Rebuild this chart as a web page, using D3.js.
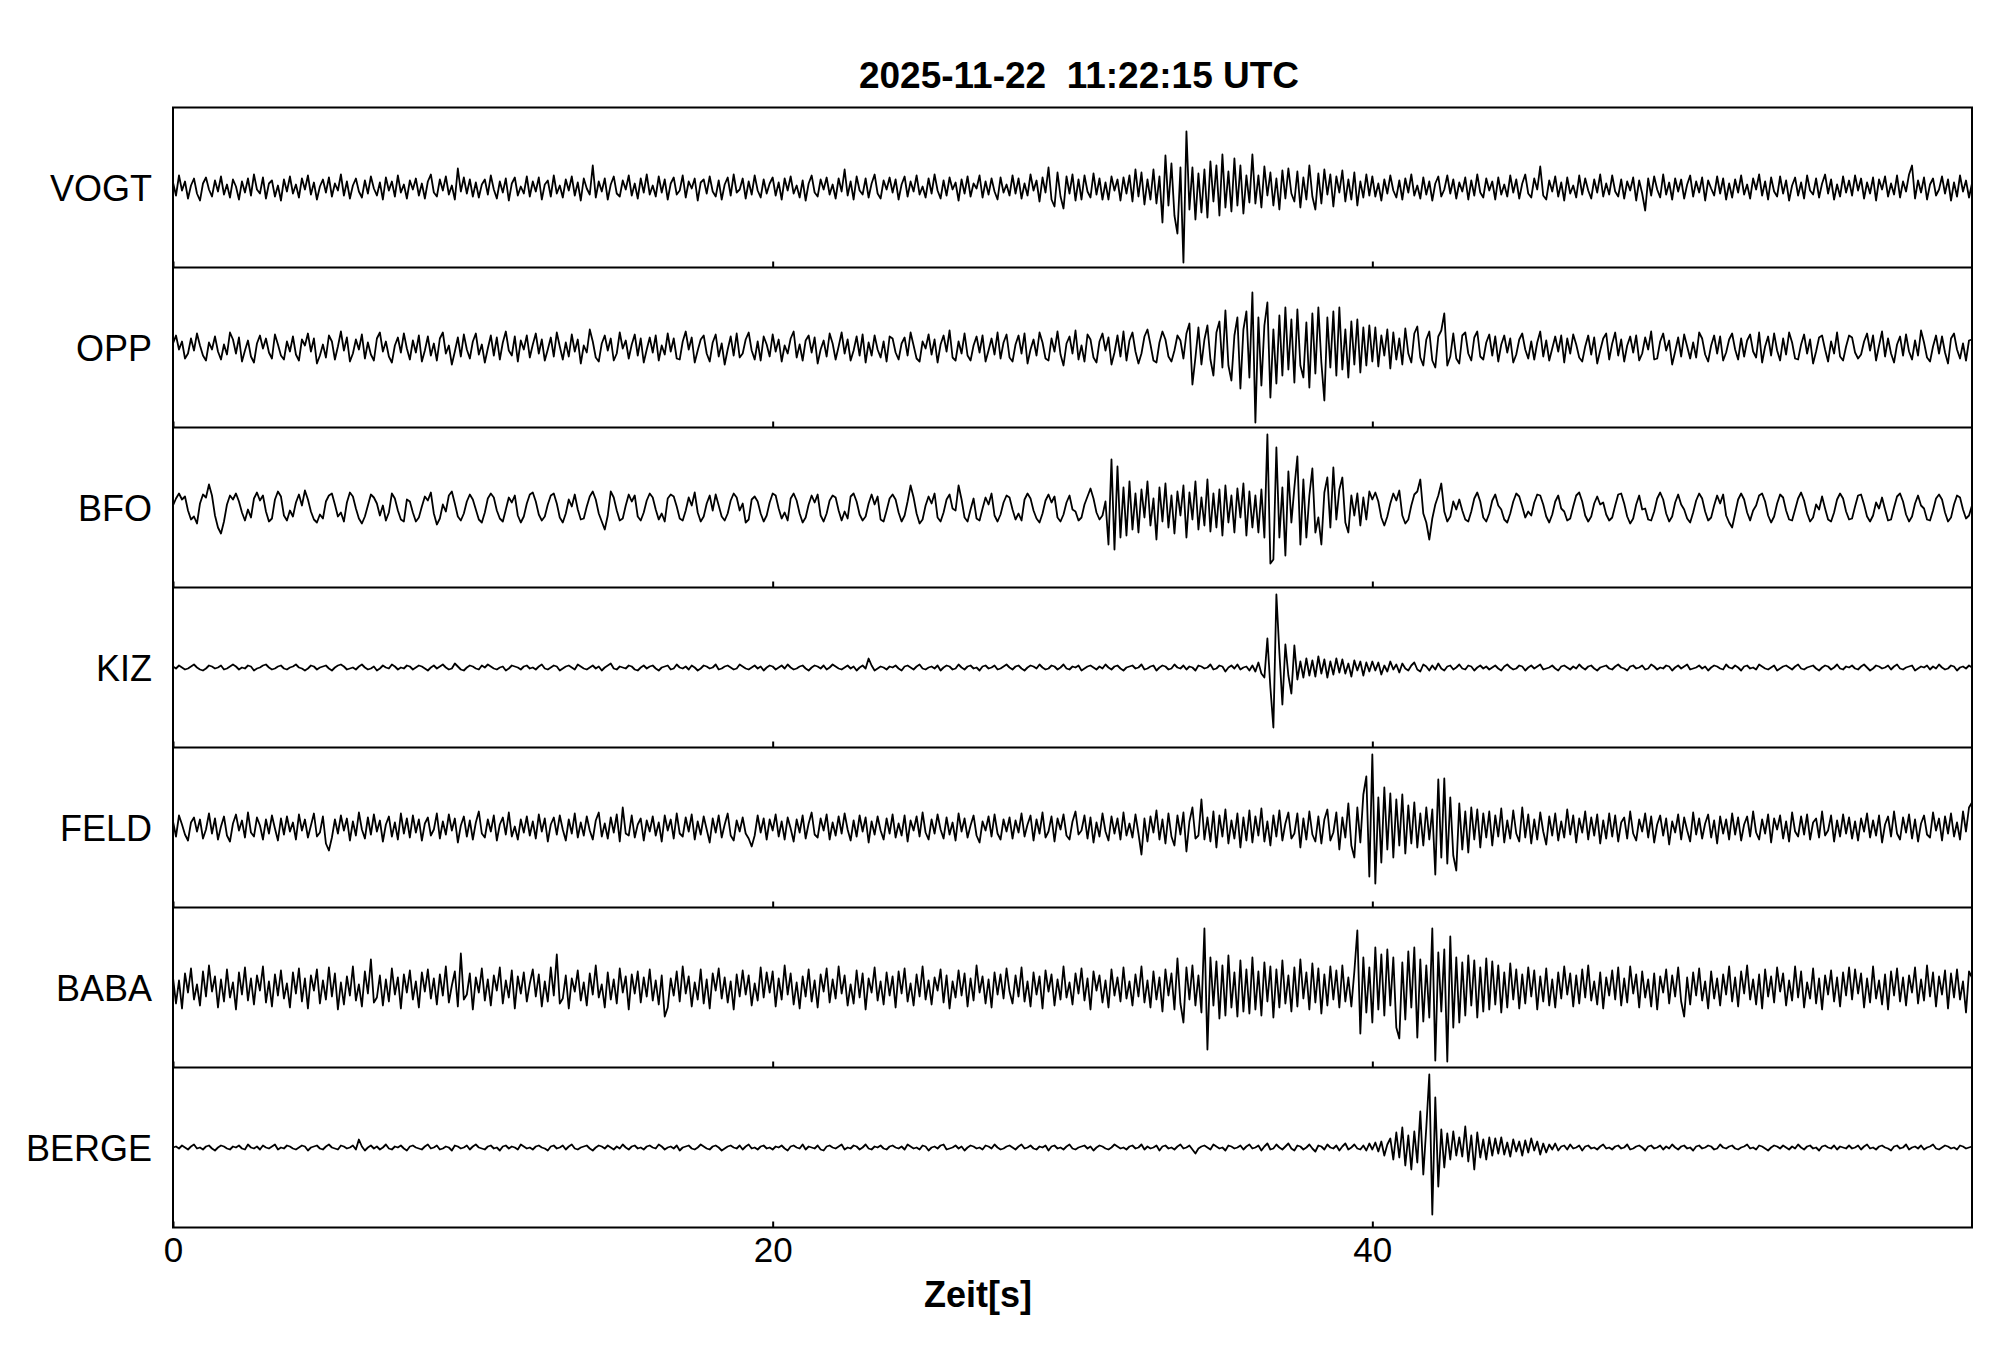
<!DOCTYPE html>
<html lang="de">

<head>
    <meta charset="UTF-8">
    <script src="https://d3js.org/d3.v7.min.js"></script>
    <title>Seismogramm</title>
    <style>
        body {
            margin: 0;
            padding: 0;
            background-color: #fff;
        }

        svg text {
            font-family: "Liberation Sans", Arial, Helvetica, sans-serif;
            fill: #000;
        }
    </style>
</head>

<body>
    <div id="chart"></div>

    <script>
        // Stationen von oben nach unten
        let stations = ["VOGT", "OPP", "BFO", "KIZ", "FELD", "BABA", "BERGE"]
        let xTicks = [0, 20, 40]
        let dt = 0.1   // Abtastintervall in s: 0, 0.1, ... 60 s
        let title = "2025-11-22  11:22:15 UTC"
        let xLabel = "Zeit[s]"

        // Amplituden je Station (eine Zeile = 4 s)
        let vogt = [
            5, -8, 12, -3, 6, -11, 2, 9, -6, -13, 4, 10, -2, -9, 7, -4, 11, -7, 3, -10, 8, 1, -12, 6, -5, 9, -8, 13, -2, -6, 10, -11, 4, 7, -9, 2, -13, 8, -4, 11,
            -6, 3, -10, 9, -2, 12, -7, 5, -12, 1, 8, -5, 10, -9, 4, -3, 13, -8, 6, -11, 2, 9, -4, -10, 7, -6, 11, -1, -8, 5, -12, 10, -3, 6, -9, 12, -5, 3, -11, 7,
            -2, 9, -8, 4, -11, 6, 13, -5, -9, 8, -3, 11, -7, 2, -12, 19, -4, 10, -6, 8, -9, 5, -10, 3, 8, -7, 12, -2, -11, 6, -5, 9, -13, 4, 10, -8, 1, -6, 11, -9,
            6, -4, 10, -12, 3, 7, -9, 12, -6, 2, -10, 8, -3, 11, -8, 5, -13, 9, -1, -7, 22, -10, 6, -4, 9, -12, 3, 11, -6, -9, 7, -2, 12, -8, 4, -11, 9, -5, 13, -7,
            2, -9, 11, -5, 8, -12, 4, 10, -7, -3, 12, -10, 6, -1, 9, -13, 5, 8, -6, 11, -4, -9, 7, -12, 3, 10, -8, 13, -5, -2, 9, -11, 6, -7, 12, -3, -10, 8, -6, 4,
            10, -8, 5, -12, 9, -3, 11, -6, 2, -10, 7, -13, 4, 12, -5, -9, 8, -2, 10, -7, 3, -11, 9, -4, 18, -8, 6, -12, 11, -3, -7, 9, -10, 4, 13, -6, -11, 7, -2, 10,
            -5, 8, -12, 3, 11, -9, 6, -4, 12, -7, 1, -10, 9, -6, 13, -3, -11, 7, -8, 10, -2, 5, -13, 8, -6, 11, -9, 4, -1, 12, -10, 6, -7, 9, -4, -12, 10, -5, 3, -8,
            12, -6, 9, -11, 4, -8, 13, -3, 7, -14, 10, -5, 20, -12, -19, 15, -9, -21, 11, -6, 13, -13, 8, -12, 12, -4, -10, 14, -7, 9, -12, 5, -12, 11, -3, 8, -13, 10, -6, 12,
            -14, 18, -9, 15, -17, 8, -12, 18, -16, 11, -35, 32, -18, 24, -28, -46, 20, -75, 56, -22, 20, -32, 14, -25, 18, -30, 26, -14, 22, -28, 33, -20, 16, -24, 29, -18, 22, -26, 12, -15,
            33, -16, 12, -20, 21, -8, 15, -18, 9, -22, 17, -11, 19, -6, -14, 16, -20, 10, -12, 22, -9, -22, 14, -16, 18, -7, 13, -19, 11, -5, 17, -14, 8, -12, 15, -18, 6, -10, 13, -8,
            11, -9, 4, -13, 8, -6, 12, -3, -10, 7, -12, 9, -5, 13, -8, 2, -11, 10, -7, 6, -13, 4, 11, -9, -2, 12, -6, 8, -11, 5, -4, 10, -12, 7, -8, 13, -5, -10, 9, -3,
            6, -12, 10, -7, 3, -9, 12, -5, 8, -11, 4, 13, -6, -10, 9, -2, 21, -8, -12, 7, -4, 11, -9, 5, -13, 10, -6, 2, -10, 12, -7, 9, -3, -11, 8, -5, 13, -9, 4, -7,
            12, -4, -9, 8, -11, 6, -3, 10, -13, 7, -6, -23, 9, -8, 11, -2, -10, 13, -7, 5, -12, 9, -4, 8, -11, 3, 12, -9, 6, -5, 10, -13, 7, -1, -8, 11, -6, 9, -12, 4,
            -10, 8, -5, 12, -7, 3, -11, 9, -2, 13, -8, 6, -12, 10, -4, -9, 11, -6, 7, -13, 2, 10, -8, 5, -11, 12, -3, -7, 9, -10, 4, 13, -6, 8, -12, 3, -9, 11, -5, 7,
            -8, 12, -3, 9, -11, 5, -6, 10, -13, 8, -2, 11, -9, 4, -7, 12, -10, 6, -4, 13, 22, -11, 7, -5, 10, -12, 3, 9, -8, -2, 11, -6, 8, -13, 5, -9, 12, -4, 7, -10,
            4
        ]
        let opp = [
            4, 12, -2, 6, -11, -6, 9, -3, 14, 2, -8, -13, 5, -2, 11, -4, -12, 3, -7, 15, 8, -6, 10, -14, -3, 7, -9, -15, 4, 12, -1, 9, -5, -11, 13, 3, -8, -12, 6, -4,
            11, -7, -13, 8, 2, 14, -4, 9, -16, -8, 3, -10, 12, 6, -12, 1, 16, -3, 10, -14, -6, 8, -2, 13, -11, 5, -7, -13, 9, 15, -4, 6, -9, -15, 2, 10, -5, 14, -1, -12,
            7, -5, 12, -14, -3, 11, -8, 4, -13, 9, 15, -6, 2, -17, -4, 10, -9, 13, -2, -11, 6, 14, -7, 3, -15, -1, 12, -8, 10, -12, 5, 16, -3, -8, 11, -14, 7, -2, 12, -10,
            3, 14, -6, 8, -13, -2, 10, -9, 15, 1, -12, 5, -9, 13, -4, 8, -16, 2, -5, 18, 6, -10, -14, 4, 12, -3, 9, -13, -6, 15, -1, 7, -11, 3, 13, -8, 9, -15, -2, 10,
            -5, 12, -13, 2, -7, 14, -4, 9, -11, -12, 6, 16, -2, 10, -15, -3, 8, 12, -6, -14, 5, 13, -9, 4, -17, -2, 11, -8, 14, -10, -6, 8, 15, -3, -12, 6, -13, 11, 3, -9,
            13, -4, 8, -14, 2, -6, 9, 16, -10, 3, -13, 7, 12, -5, 10, -16, -2, 7, -9, 14, 4, -12, 1, 15, -6, 8, -13, -3, 11, -8, 13, -15, 5, -8, 12, -2, -10, 6, -14, 11,
            9, -5, -12, 4, 10, -8, 15, 2, -11, -14, 6, -1, 13, -7, 8, -15, 3, 12, -4, 17, -10, -13, 6, -6, 14, -8, -13, 2, 11, -5, 12, -14, -3, 9, -7, 15, -11, 5, 13, -10,
            -14, 3, 12, -6, 14, -16, -2, 8, -8, 15, 5, -11, -13, 9, -4, 16, -7, -18, 4, 11, -6, 17, -12, 2, -14, 13, 8, -10, -15, 6, 14, -3, 10, -17, -5, 12, -9, 16, -13, 7,
            15, -4, -16, -6, 11, 18, 3, -13, -15, 5, 16, 8, -9, -14, -3, 12, 7, -11, 14, 24, -37, -10, 20, -17, 8, 22, -12, -28, 15, 26, -20, 37, -18, -33, 12, 30, -41, 18, 36, -30,
            55, -75, 30, -38, 22, 45, -50, 18, -36, 32, -28, 40, -22, 28, -35, 38, -18, -30, 25, -40, 34, -26, 40, -15, -53, 30, -20, 36, -28, 40, -22, 18, -30, 26, -17, 28, -25, 20, -18, 22,
            -14, 20, -19, 12, -8, 18, -21, 15, -12, 9, -17, 19, -6, -15, 14, 21, -10, -18, 8, 16, -13, -20, 11, 17, 34, -18, -9, 14, -11, -16, 12, 15, -6, -13, 10, 16, -9, -12, 5, 13,
            -8, 11, -14, 3, 12, -5, 9, -15, -7, 8, 14, -2, -11, 6, -12, 5, 16, -9, 7, -13, -1, 11, -4, 12, -15, 9, -6, 13, 3, -10, -14, 1, 12, -7, 10, -16, -3, 9, 14, -12,
            4, 15, -8, 8, -14, 2, 11, -5, 12, -13, -6, 10, -2, 16, -12, -11, 6, 14, -3, 7, -17, -4, 10, -9, 13, 1, -11, 5, -10, 15, 9, -7, -14, 2, 12, -6, 11, -13, -5, 8,
            14, -2, -12, 9, -9, 7, 13, -4, -10, 15, -15, 1, 11, -8, 14, -3, -13, 9, -7, 15, 5, -11, -12, 3, 13, -6, 8, -16, -4, 10, 12, -2, -14, 6, -6, 15, -9, -13, 1, 12,
            10, -5, -11, -7, 6, 14, -3, 12, -13, 2, 16, -9, 9, -6, -15, 3, 11, -8, 13, -4, -12, 7, -8, 17, 5, -10, -14, 1, 12, -6, 11, -5, -16, 9, 14, -2, -11, 4, -13, 7,
            8
        ]
        let bfo = [
            2, 9, 14, 8, 11, -3, -12, -9, -16, 4, 13, 10, 23, 12, -8, -20, -26, -14, 3, 12, 8, 14, 6, -5, -13, -2, -10, 9, 15, 7, 12, -4, -14, -11, 8, 16, 11, -8, -13, -3,
            -9, 5, 13, 2, 17, 8, -4, -12, -15, -7, -11, 6, 12, 14, 3, -9, -5, -14, 5, 15, 11, -1, -11, -16, -9, 2, 13, 10, 4, -8, 2, -13, -5, 14, 9, -3, -12, -14, 8, 6,
            -5, -14, -10, 1, 11, 7, 15, -6, -17, -11, 3, -4, 12, 16, 4, -9, -13, -6, 6, 13, 8, -2, -12, -15, -5, 9, 14, 10, -3, -11, -14, -2, 10, 5, 12, -8, -15, -9, 4, 13,
            15, 6, -7, -13, -9, 3, 12, 14, 4, -10, -15, -6, 8, 1, 13, -2, -12, -11, 1, 11, 16, 8, -6, -14, -22, -8, 16, 10, -3, -13, -11, 2, 13, 6, 12, -9, -13, -5, 7, 14,
            10, -2, -12, -6, -14, 9, 13, 11, 1, -11, -13, -3, 10, 2, 15, -5, -14, -9, 4, 12, -3, 13, 2, -9, -13, -6, 7, 14, 10, -3, 4, -15, -12, 8, 11, 6, -6, -14, -8, 5,
            14, 12, -1, -11, -5, -13, 9, 14, 7, -6, -15, -10, 3, 12, 5, 13, -8, -14, -6, 7, 12, 10, -3, -13, -4, -11, 11, 14, 6, -7, -13, -9, 4, 13, 3, 11, -12, -14, -3, 9,
            13, 8, -5, -14, -8, 6, 22, 10, -6, -16, -12, 2, 11, 4, 14, -10, -14, -5, 8, 13, -1, -3, 22, 8, -10, -14, -2, 9, -11, -13, -1, 10, 3, 14, -8, -14, -7, 5, 12, 10,
            -2, -12, -6, -13, 8, 14, 9, -3, -11, -15, -6, 7, 13, 5, 11, -10, -14, -7, 5, 12, -2, -4, -13, -10, 3, 11, 19, 9, -5, -12, -8, 6, -37, 48, -42, 41, -30, 20, -28, 26,
            -22, 14, -25, 18, -10, 26, -18, 9, -32, 20, -14, 24, -20, 12, -26, 16, -8, 22, -30, 15, -12, 26, -22, 10, -18, 28, -24, 14, -20, 18, -28, 22, -15, 12, -25, 19, -10, 24, -28, 16,
            -20, 12, -25, 18, -30, 73, -56, -52, 60, -30, 20, -48, 36, -15, 20, 51, -37, 28, -30, 12, 39, -25, -10, -37, 15, 30, -20, 40, -12, 18, 30, -15, -25, 12, -8, 14, -18, 10, -12, 16,
            8, 15, 6, -10, -18, -9, 4, 14, 7, 17, -8, -16, -12, 2, 13, 16, 28, -6, -15, -32, -11, 3, 12, 24, -4, -14, -9, 6, -2, 8, -3, -12, -14, -4, 9, 15, 6, -10, -14, -6,
            7, 13, 2, -2, -12, -15, -6, 6, 14, 11, 1, -10, -4, -8, 5, 13, 12, 3, -9, -15, -7, 6, 12, -1, -4, -13, -11, 1, 12, 15, 6, -8, -14, -9, 4, 11, 3, 5, -7, -13,
            -10, 2, 13, 14, 4, -9, -16, -11, 3, 12, -2, -1, -12, -13, -4, 9, 15, 8, -6, -14, -9, 5, 13, 3, -2, -11, -15, -5, 7, 14, 9, -4, -13, -10, 2, 12, 4, 13, -8, -15,
            -20, -6, 8, 14, 8, -5, -13, -3, 2, 12, 14, 6, -8, -15, -9, 4, 13, 10, -3, -12, -13, -2, 9, 15, 7, -6, -14, -10, 3, -2, 11, -1, -12, -14, -5, 8, 14, 9, -4, -12,
            -11, 1, 12, 13, 3, -9, -14, -8, 5, -1, 10, -2, -13, -12, 0, 11, 14, 6, -7, -14, -9, 4, 12, 2, -1, -12, -13, -3, 9, 13, 8, -5, -14, -10, 3, 12, 10, -2, -11, -8,
            2
        ]
        let kiz = [
            1, -1, 2, 0, -2, -1, 1, 3, 0, -2, -3, -1, 2, 1, -1, 0, 2, -2, -1, 1, 3, 1, -2, 0, -1, 2, 1, -3, -1, 0, 2, 3, 0, -2, -1, 1, 2, -1, -2, 0,
            1, 3, 0, -1, -3, -1, 2, 1, -2, 0, 1, 2, -1, -3, 0, 2, 3, 1, -2, -1, 0, -2, 1, 3, 0, -2, -1, 1, -3, -1, 2, 0, -1, 3, 1, -2, 0, -1, 2, 1,
            -2, 0, 2, 1, -1, -3, 0, 2, -1, 1, 3, 0, -2, -1, 4, 1, -2, -3, 0, 2, 1, -1, -2, 2, 0, 3, 1, -1, -2, 0, 1, -3, -1, 2, 1, 0, -2, 1, 2, -1,
            0, -2, 1, 3, -1, -2, 0, 2, 1, -3, -1, 1, 2, 0, -2, 3, 1, -1, -2, 0, 2, -1, 1, -3, 0, 2, 4, -1, -2, 1, 0, -1, 2, 1, -2, -3, 0, 2, -1, 1,
            2, -1, -3, 0, 1, 2, -2, -1, 3, 0, -1, 1, -2, 2, 0, -3, -1, 2, 1, -1, 0, 3, -2, -1, 1, 2, 0, -2, -1, 3, 1, -1, -2, 0, 2, -1, 1, -3, 0, 2,
            1, -2, 0, 2, -1, 3, 0, -2, -1, 1, 2, -1, -3, 0, 2, 1, -1, 2, -2, 0, 3, 1, -1, -2, 0, 2, -1, 1, -3, 0, 2, -1, 9, 2, -3, -1, 1, 0, -2, 1,
            0, 2, -1, -3, 1, 2, 0, -2, 1, 3, -1, -2, 0, 1, -1, 2, -3, 0, 2, 1, -2, -1, 3, 0, -2, 1, 2, -1, 0, -3, 1, 2, -1, 0, 2, -2, -1, 1, 3, 0,
            -2, 1, 2, -1, -3, 0, 2, 1, -1, 3, 0, -2, -1, 2, 1, -2, 0, 3, -1, -2, 1, 0, 2, -3, -1, 1, 2, 0, -2, 1, -1, 3, 0, -2, 1, 2, -1, -3, 0, 1,
            2, -1, 0, 3, -2, -1, 1, 2, -3, 0, 2, 1, -2, -1, 3, 0, -1, 2, -2, 1, 0, -3, 2, 1, -1, 0, 3, -2, -1, 2, 1, -4, 0, 2, -1, 3, -2, 0, 1, -3,
            2, -4, 5, -6, -10, 29, -20, -60, 73, 15, -37, 23, -8, -26, 22, -12, 6, -10, 9, -8, 7, -9, 11, -6, 8, -10, 6, -7, 9, -5, 8, -6, 4, -9, 7, -3, 6, -8, 5, -4,
            6, -3, 5, -7, 2, -4, 6, -2, 3, -5, 4, -1, -3, 2, 5, -2, -4, 3, 1, -3, 2, -2, 4, -1, -3, 1, 2, -2, 0, 3, -1, -2, 2, 1, -3, 0, 2, -1, 1, -2,
            0, 2, -1, -3, 1, 3, 0, -2, -1, 2, 1, -3, 0, 2, -1, 1, 3, -2, -1, 0, 2, -1, -3, 1, 2, 0, -2, 1, -1, 3, 0, -2, 1, 2, -1, -3, 0, 1, 2, -1,
            -2, 1, 3, 0, -1, -3, 1, 2, -1, 0, 2, -2, -1, 3, 1, -2, 0, -1, 2, 1, -3, 0, 2, -1, 1, 3, -2, -1, 0, 2, -1, 1, -3, 0, 2, 1, -1, -2, 3, 0,
            -1, 2, 0, -3, 1, 2, -1, 0, -2, 3, 1, -1, -2, 0, 2, -3, -1, 1, 2, 0, -2, 1, 3, -1, -2, 0, 1, 2, -1, -3, 0, 2, 1, -2, 0, 3, -1, -2, 1, 0,
            2, -1, -2, 1, 3, 0, -3, -1, 2, 1, -1, 0, 2, -2, 1, 3, -1, -2, 0, 1, 2, -3, -1, 1, 0, 2, -2, 1, -1, 3, 0, -2, -1, 2, 1, -3, 0, 1, -1, 2,
            0
        ]
        let feld = [
            6, -9, 12, 3, -7, -13, 5, 10, -4, 8, -11, -2, 14, -6, 9, -12, 1, 11, -8, -14, 4, 13, -3, 7, -10, 15, -5, -9, 10, 2, -12, 8, -6, 12, -1, -13, 9, -7, 11, -4,
            5, -12, 13, -3, 8, -10, 2, 14, -9, -5, 11, -16, -23, -10, 8, -6, 12, -3, 9, -13, 6, -8, 15, -2, -11, 10, -7, 13, -4, 7, -14, 3, 11, -9, 5, -12, 14, -6, 9, -10,
            12, -5, 8, -13, 4, 10, -8, -2, 14, -11, 6, -7, 13, -3, 9, -15, 2, 11, -9, 7, -12, 5, 16, -6, -10, 8, -4, 12, -13, 3, 10, -7, 15, -9, 1, -12, 8, -5, 11, -8,
            6, -11, 13, -4, 9, -14, 3, 10, -7, 12, -2, -13, 8, -6, 14, -10, 5, -8, 11, -3, -12, 7, 15, -9, 4, -11, 10, -5, 13, -14, 20, -6, -8, 12, -10, 3, 9, -13, 7, -4,
            11, -8, 5, -14, 12, -3, 8, -11, 14, -6, -9, 10, -4, 13, -12, 6, -7, 11, -2, -15, 9, -5, 12, -10, 3, 14, -8, -13, 7, -4, 10, -6, -11, -19, -8, 12, -5, 9, -12, 8,
            -3, 13, -9, 6, -12, 10, -1, -14, 8, -5, 12, -11, 4, 15, -7, -10, 9, -3, 13, -12, 5, -8, 11, -6, 14, -2, -13, 7, -9, 12, -4, 10, -15, 6, -7, 11, -3, -12, 9, -6,
            13, -10, 4, -8, 12, -14, 7, -3, 11, -9, 15, -5, -12, 8, -6, 13, -2, -11, 10, -7, 5, -13, 14, -4, 9, -10, 2, 12, -8, -15, 6, -3, 11, -9, 13, -6, -12, 8, -4, 10,
            -11, 7, -5, 14, -9, 3, 12, -13, 8, -6, 15, -10, -4, 11, -14, 9, -2, 13, -8, -12, 6, 16, -7, -3, 12, -11, 10, -15, 5, -9, 14, -4, -13, 11, -6, 9, -12, 15, -8, 4,
            -10, 13, -6, -27, 9, -14, 11, -5, 17, -12, 8, -16, 14, -9, -18, 12, -7, 15, -24, 6, 20, -11, -8, 28, -12, 10, -14, 16, -20, 12, -9, 18, -16, 7, -11, 14, -20, 10, -13, 17,
            -15, 11, -8, 19, -14, 6, -18, 12, -9, 17, -13, 4, 15, -11, -6, 14, -20, 9, -12, 16, -7, -14, 11, -16, 8, 18, -13, -5, 15, -22, 10, -10, 24, -18, -30, 20, -15, 33, 51, -49,
            73, -56, 30, -35, 40, -22, 34, -30, 28, -18, 33, -26, 22, -16, 25, -20, 14, -18, 20, -12, 18, -47, 48, -30, 49, -36, 30, -28, -43, 24, -22, 16, -25, 20, -12, 18, -20, 14, -10, 16,
            -18, 12, -9, 19, -15, 7, -11, 17, -6, -14, 20, -10, 13, -16, 8, -12, 15, -4, -17, 11, -8, 14, -13, 6, -10, 18, -7, 12, -15, 9, -5, 16, -12, 10, -8, 13, -16, 7, -11, 14,
            -9, 12, -14, 5, 10, -11, 16, -6, -13, 8, -4, 14, -10, 11, -15, 3, 12, -8, 9, -17, 6, -5, 13, -12, 10, -3, -14, 15, -7, 9, -11, 4, 13, -10, 7, -16, 11, -6, 8, -12,
            14, -7, 10, -13, 3, 11, -9, 16, -5, -12, 8, -6, 13, -15, 9, -2, 12, -11, 6, -14, 15, -4, -9, 11, -7, 13, -12, 5, 9, -10, 16, -8, -3, 12, -14, 7, -9, 13, -6, 10,
            -11, 6, -13, 9, -4, 14, -10, 7, -8, 12, -15, 3, 11, -9, 16, -6, -12, 10, -5, 13, -11, 8, -14, 4, 12, -7, -10, 15, -3, 9, -13, 11, -6, 14, -9, 5, -12, 16, -4, 20,
            25
        ]
        let baba = [
            10, -16, 7, -21, 14, -5, 19, -12, 3, -18, 16, -9, 22, -4, 11, -20, 8, -14, 18, -10, 5, -22, 15, -7, 20, -13, 9, -17, 12, -3, 21, -15, 6, -19, 13, -8, 17, -11, 4, -20,
            15, -6, 19, -14, 9, -21, 12, -3, 18, -16, 7, -12, 20, -9, 14, -22, 5, -17, 11, -8, 21, -13, 3, -19, 16, -6, 28, -15, -10, 12, -18, 8, -14, 19, -7, 10, -21, 13, -5, 17,
            -12, 6, -20, 15, -4, 18, -11, 9, -17, 13, -8, 21, -15, 2, 16, -19, 34, -12, -7, 14, -22, 10, -5, 19, -13, 8, -18, 12, -3, 20, -16, 7, -10, 17, -21, 11, -6, 15, -14, 4,
            18, -9, 13, -19, 6, -14, 20, -8, 33, -16, -11, 12, -21, 9, -4, 17, -13, 5, -18, 14, -7, 22, -10, 3, -20, 15, -12, 8, -16, 19, -5, 11, -22, 13, -6, 16, -15, 10, -9, 18,
            -13, 7, -17, 12, -29, -20, 9, -8, 16, -14, 21, -6, 11, -19, 5, -12, 18, -16, 8, -21, 14, -3, 19, -11, 10, -15, 6, -22, 13, -9, 17, -7, 12, -18, 4, -13, 20, -10, 15, -5,
            16, -19, 9, -12, 22, -7, 14, -17, 5, -21, 11, -9, 18, -14, 7, -20, 13, -4, 19, -15, 8, -11, 21, -6, 12, -18, 3, -16, 17, -10, 14, -22, 9, -5, 20, -13, 6, -17, 15, -8,
            11, -20, 16, -6, 19, -14, 4, -18, 13, -9, 21, -12, 7, -17, 10, -3, 18, -15, 12, -21, 6, -10, 17, -8, 14, -19, 9, -13, 22, -5, 11, -16, 8, -20, 15, -7, 13, -11, 19, -4,
            -16, 12, -9, 20, -14, 6, -19, 15, -7, 11, -21, 17, -4, 13, -18, 8, -12, 21, -10, 5, -17, 14, -6, 19, -13, 9, -22, 16, -3, 12, -15, 7, -20, 18, -8, 10, -14, 20, -11, 6,
            -18, 13, -9, 21, -15, 7, -20, 16, -12, 10, -24, 18, -8, 14, -22, 29, -16, -35, 20, -12, 22, -18, 12, -25, 59, -62, 30, -18, 26, -31, 22, -28, 32, -20, 15, -29, 27, -24, 18, -26,
            30, -22, 16, -28, 25, -14, 21, -30, 18, -20, 27, -16, 12, -24, 20, -19, 28, -11, 15, -22, 24, -15, 19, -26, 13, -18, 21, -12, 17, -20, 22, -14, 10, -19, 16, 57, -46, 30, -25, 20,
            -35, 40, -22, 33, -28, 38, -18, 30, -40, -51, 25, -32, 36, -20, 40, -50, 28, -34, 22, -30, 59, -73, 35, -24, 38, -74, 51, -40, 30, -35, 25, -28, 32, -18, 27, -30, 20, -24, 29, -22,
            26, -17, 22, -25, 15, -20, 24, -12, 18, -21, 13, -16, 20, -9, 17, -22, 11, -14, 19, -18, 8, -20, 15, -11, 21, -7, 14, -19, 12, -16, 18, -10, 22, -13, 6, -17, 15, -21, 10, -8,
            17, -12, 20, -18, 9, -15, 21, -6, 13, -20, 16, -10, 8, -19, 14, -22, 11, -5, 18, -16, 12, -9, 20, -14, -29, 10, -17, 15, -8, 19, -13, 6, -21, 16, -11, 9, -18, 13, -7, 21,
            -14, 10, -19, 16, -6, 22, -12, 8, -17, 13, -21, 18, -9, 11, -15, 20, -4, 14, -18, 7, -13, 21, -10, 16, -20, 5, -11, 19, -16, 9, -22, 12, -7, 17, -14, 10, -19, 15, -8, 20,
            -12, 18, -6, 14, -20, 9, -15, 21, -11, 7, -17, 13, -22, 16, -8, 19, -14, 10, -18, 12, -5, 20, -16, 8, -13, 22, -9, 15, -19, 11, -7, 17, -21, 14, -10, 18, -12, 6, -25, 16,
            10
        ]
        let berge = [
            0, 1, -1, 2, 0, -2, 1, 3, -1, 0, -2, 1, 2, -1, -3, 0, 2, 1, -1, -2, 1, 0, 2, -1, -2, 3, 0, -1, 1, -2, 2, 0, -1, 1, 3, -2, 0, -1, 2, 1,
            -1, -2, 0, 2, 1, -3, 0, 1, 2, -1, -2, 1, 3, 0, -1, -2, 2, 1, -1, 0, 2, -2, 8, 1, -3, 0, 2, -1, 1, -2, 0, 3, -1, -2, 1, 0, 2, -1, -3, 1,
            2, 0, -1, -2, 1, 3, -1, 0, 2, -2, -1, 1, 0, -3, 2, 1, -1, 0, 2, -2, 1, 3, 0, -1, -2, 1, 2, -1, 0, -3, 1, 2, -1, 1, 0, -2, 3, 1, -1, 0,
            -2, 1, 2, 0, -1, -3, 1, 2, -1, 0, 2, -2, 1, 3, -1, -2, 0, 1, 2, -1, -3, 0, 2, 1, -1, 2, 0, -2, 1, -1, 3, 0, -2, 1, 2, -1, 0, -2, 1, 2,
            0, -1, 3, 1, -2, 0, 1, -1, 2, -3, 0, 1, 2, -1, -2, 0, 3, 1, -1, -2, 1, 2, 0, -3, -1, 1, 2, 0, -1, 2, -2, 1, 3, -1, 0, -2, 1, 2, -1, 0,
            -2, 1, 0, 2, -1, -3, 1, 2, 0, -1, 3, -2, 1, 0, -1, 2, -2, -3, 1, 2, 0, -1, 1, 3, -2, 0, -1, 2, 1, -2, 0, 3, -1, -2, 1, 0, 2, -1, -2, 1,
            2, 0, -1, 1, -2, 3, 1, -1, 0, -2, 2, 1, -3, 0, 1, -1, 2, 3, -2, -1, 0, 2, -1, 1, -3, 0, 2, 1, -1, 0, -2, 2, 1, -1, 3, 0, -2, -1, 1, 2,
            0, -2, 1, 3, -1, 0, 2, -1, -2, 1, 0, 2, -3, 1, 2, -1, 0, -2, 1, 3, -1, -2, 0, 1, 2, -1, 1, -3, 0, 2, 1, -1, -2, 0, 3, 1, -1, 0, -2, 1,
            2, -1, 0, 3, -2, 1, -1, 0, 2, -3, 1, 2, -1, 0, -2, 1, 3, -1, 0, 2, -2, -6, -1, 1, 2, 0, -2, 3, 1, -1, 0, -3, 2, 1, -1, 0, 2, -2, 1, 3,
            -1, 0, 2, -3, 1, 4, -2, -1, 3, 0, -2, 1, 4, -1, -3, 2, 1, -2, 0, 3, -1, -4, 2, 1, -2, 3, 0, -1, 2, -3, 1, 4, -2, 0, 3, -1, -2, 2, -3, 4,
            -2, 5, -4, 6, -8, 3, 9, -12, 15, -10, 20, -18, 12, -22, 16, -15, 36, -27, 20, 73, -67, 50, -39, 18, -20, 14, -12, 16, -8, 10, -9, 21, -14, 12, -22, 15, -10, 8, -12, 10,
            -8, 9, -6, 10, -7, 5, -9, 8, -4, 6, -8, 7, -5, 9, -3, 6, -7, 4, -5, 3, -2, 4, -3, 1, 2, -2, 3, -1, 0, 2, -3, 1, 2, -1, 0, -2, 1, 3, -1, 0,
            -2, 1, 2, -1, 0, 3, -2, -1, 1, 2, 0, -3, 1, 2, -1, 0, 2, -2, 1, -1, 3, 0, -2, 1, 2, -1, 0, -3, 1, 2, -1, 0, 2, 1, -2, -1, 3, 0, -1, 1,
            2, -1, -2, 0, 1, 3, -1, 0, -2, 2, 1, -1, -3, 0, 2, 1, -1, 2, 0, -2, 1, -1, 3, 0, -2, 1, 2, -1, 0, -3, 1, 2, 0, -1, 2, -2, 1, 0, -1, 2,
            -1, 0, 2, -2, 1, 3, -1, 0, -2, 1, 2, 0, -1, -3, 1, 2, -1, 0, 3, -2, 0, 1, -1, 2, -2, 0, 1, 3, -1, -2, 0, 2, 1, -1, 0, -2, 2, 1, -1, 0,
            1
        ]
        let traces = [vogt, opp, bfo, kiz, feld, baba, berge]

        let ssvg = {
            width: 2005,
            height: 1361,
            left: 173,
            right: 1972,
            top: 107.5,
            panel: 160
        }

        let svg = d3.select("#chart").append("svg")
            .attr("width", ssvg.width)
            .attr("height", ssvg.height)

        svg.append("rect").attr("width", ssvg.width).attr("height", ssvg.height).attr("fill", "#fff")

        let xscal = d3.scaleLinear().domain([0, 60]).range([ssvg.left, ssvg.right])

        stations.forEach((name, i) => {
            let top = ssvg.top + i * ssvg.panel
            let yscal = d3.scaleLinear().domain([-80, 80]).range([top + ssvg.panel, top])

            let line = d3.line().x((d, j) => xscal(j * dt)).y(d => yscal(d))
            svg.append("path").datum(traces[i])
                .attr("d", line)
                .attr("fill", "none")
                .attr("stroke", "#000")
                .attr("stroke-width", 1.8)
                .attr("stroke-linejoin", "round")

            // kleine Striche an der Unterkante jeder Spur
            let last = i == stations.length - 1
            let xaxi = d3.axisBottom(xscal).tickValues(xTicks).tickSize(-6).tickSizeOuter(0)
            if (!last) xaxi.tickFormat("")
            let g = svg.append("g").attr("transform", "translate(0," + (top + ssvg.panel) + ")").call(xaxi)
            g.select(".domain").remove()
            g.selectAll("line").attr("stroke", "#000").attr("stroke-width", 2)
            g.selectAll("text").attr("dy", null).attr("y", 34).style("font-size", "35px")

            svg.append("text")
                .attr("x", 152)
                .attr("y", top + ssvg.panel / 2 + 13)
                .attr("text-anchor", "end")
                .style("font-size", "36px")
                .text(name)

            if (i > 0) {
                svg.append("line")
                    .attr("x1", ssvg.left).attr("x2", ssvg.right)
                    .attr("y1", top).attr("y2", top)
                    .attr("stroke", "#000").attr("stroke-width", 2)
            }
        })

        svg.append("rect")
            .attr("x", ssvg.left).attr("y", ssvg.top)
            .attr("width", ssvg.right - ssvg.left)
            .attr("height", ssvg.panel * stations.length)
            .attr("fill", "none").attr("stroke", "#000").attr("stroke-width", 2)

        svg.append("text")
            .attr("x", 1079).attr("y", 88)
            .attr("text-anchor", "middle")
            .style("font-size", "37px").style("font-weight", "bold")
            .style("white-space", "pre")
            .text(title)

        svg.append("text")
            .attr("x", 978).attr("y", 1307)
            .attr("text-anchor", "middle")
            .style("font-size", "36px").style("font-weight", "bold")
            .text(xLabel)
    </script>
</body>

</html>
